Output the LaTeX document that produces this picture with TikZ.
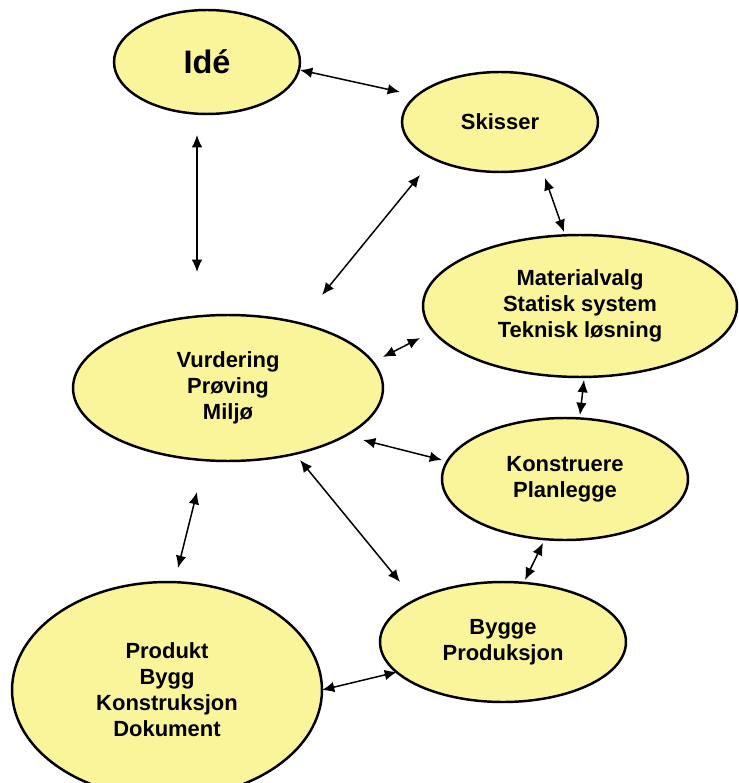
\documentclass[tikz,border=0pt]{standalone}
\usepackage{fontspec}
\setmainfont{Liberation Sans}
\usepackage{xcolor}
\usepackage{tikz}
\usetikzlibrary{shapes,arrows.meta}

\definecolor{bubblefill}{RGB}{250,245,155}

\begin{document}
\begin{tikzpicture}[x=0.02cm, y=-0.02cm, % 1 unit = 1 pixel
			bubble/.style={
					ellipse,
					draw,
					fill=bubblefill,
					line width=1.4pt,
					inner sep=0pt,
					align=center,
					font=\bfseries\fontsize{12.5}{14.8}\selectfont
				},
			line/.style={draw, line width=0.85pt, {Latex[length=7pt,width=6pt]}-{Latex[length=7pt,width=6pt]}}
		]
		\useasboundingbox (0,0) rectangle (739,783);
		% Place nodes
		\node [bubble, minimum width=3.72cm, minimum height=2.08cm, font=\bfseries\fontsize{18.5}{20}\selectfont] (idea) at (207,62) {Idé};
		\node [bubble, minimum width=3.92cm, minimum height=2.00cm] (sketch) at (500,122) {Skisser};
		\node [bubble, minimum width=6.28cm, minimum height=2.84cm] (material) at (580,306) {Materialvalg\\Statisk system\\Teknisk løsning};
		\node [bubble, minimum width=6.20cm, minimum height=2.92cm] (assess) at (228,388) {Vurdering\\Prøving\\Miljø};
		\node [bubble, minimum width=4.92cm, minimum height=2.44cm] (design) at (565,479) {Konstruere\\Planlegge};
		\node [bubble, minimum width=4.92cm, minimum height=2.40cm] (build) at (503,642) {Bygge\\Produksjon};
		\node [bubble, minimum width=6.20cm, minimum height=4.32cm] (product) at (167,690) {Produkt\\Bygg\\Konstruksjon\\Dokument};
		% Draw edges
		\path [line] ([shift={(93,8)}]idea.center) -- ([shift={(-100,-30)}]sketch.center);
		\path [line] ([shift={(-10,73)}]idea.center) -- ([shift={(-31,-116)}]assess.center);
		\path [line] ([shift={(-80,53)}]sketch.center) -- ([shift={(94,-93)}]assess.center);
		\path [line] ([shift={(45,56)}]sketch.center) -- ([shift={(-16,-74)}]material.center);
		\path [line] ([shift={(-160,32)}]material.center) -- ([shift={(155,-31)}]assess.center);
		\path [line] ([shift={(4,74)}]material.center) -- ([shift={(15,-64)}]design.center);
		\path [line] ([shift={(135,52)}]assess.center) -- ([shift={(-123,-19)}]design.center);
		\path [line] ([shift={(72,72)}]assess.center) -- ([shift={(-103,-60)}]build.center);
		\path [line] ([shift={(-31,104)}]assess.center) -- ([shift={(11,-122)}]product.center);
		\path [line] ([shift={(-22,64)}]design.center) -- ([shift={(22,-62)}]build.center);
		\path [line] ([shift={(155,0)}]product.center) -- ([shift={(-106,30)}]build.center);
	\end{tikzpicture}
\end{document}
